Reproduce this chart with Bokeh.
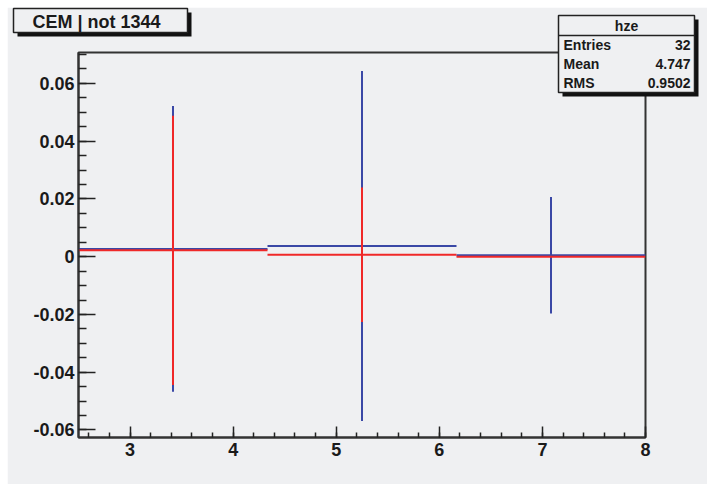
from bokeh.plotting import figure
from bokeh.models import FixedTicker, CustomJSTickFormatter, Range1d
from bokeh.core.properties import value
from bokeh.embed import file_html
from bokeh.resources import INLINE
import numpy as np

# ---- data ----
bin_edges = [2.5, 4.3333, 6.1667, 8.0]
blue_values = [0.0027, 0.0037, 0.0005]
blue_errors = [0.0495, 0.0606, 0.0202]
red_values = [0.0022, 0.0007, 0.0000]
red_errors = [0.0466, 0.0233, 0.0000]

x_ticks = [3, 4, 5, 6, 7, 8]
x_tick_labels = ["3", "4", "5", "6", "7", "8"]
y_ticks = [-0.06, -0.04, -0.02, 0.0, 0.02, 0.04, 0.06]
y_tick_labels = ["-0.06", "-0.04", "-0.02", "0", "0.02", "0.04", "0.06"]

title_text = "CEM | not 1344"
stats_name = "hze"
stats_rows = ["Entries", "Mean", "RMS"]
stats_vals = ["32", "4.747", "0.9502"]

BG = "#eff0f2"
FONT = "Liberation Sans"

# frame placement on the page (pixels)
FL, FR, FT, FB = 78, 645, 52, 437

W, H = 700, 477
p = figure(width=W, height=H, x_range=(2.5, 8.0), y_range=(-0.0626, 0.0707),
           output_backend="svg", toolbar_location=None,
           min_border_left=FL - 7, min_border_right=707 - FR, min_border_top=FT - 7,
           min_border_bottom=484 - FB, margin=(7, 0, 0, 7))
# pixel coordinate system for the decorative boxes
p.extra_x_ranges = {"px": Range1d(FL, FR)}
p.extra_y_ranges = {"px": Range1d(FB, FT)}

p.background_fill_color = BG
p.border_fill_color = BG
p.outline_line_color = "#333333"
p.outline_line_width = 2
p.xgrid.visible = False
p.ygrid.visible = False

# axes
xminor = list(np.round(np.arange(2.6, 8.0001, 0.2), 4))
yminor = list(np.round(np.arange(-0.06, 0.0701, 0.005), 4))
p.xaxis.ticker = FixedTicker(ticks=x_ticks, minor_ticks=xminor)
p.yaxis.ticker = FixedTicker(ticks=y_ticks, minor_ticks=yminor)
fmt_code = """
let best = 0, bd = 1e9;
for (let i = 0; i < tvals.length; i++) {
  const d = Math.abs(tvals[i] - tick);
  if (d < bd) { bd = d; best = i; }
}
return tlabels[best];
"""
p.xaxis.formatter = CustomJSTickFormatter(args=dict(tvals=x_ticks, tlabels=x_tick_labels), code=fmt_code)
p.yaxis.formatter = CustomJSTickFormatter(args=dict(tvals=y_ticks, tlabels=y_tick_labels), code=fmt_code)

for ax in (p.xaxis[0], p.yaxis[0]):
    ax.axis_line_color = "#333333"
    ax.axis_line_width = 2
    ax.major_tick_line_color = "#222222"
    ax.minor_tick_line_color = "#222222"
    ax.major_tick_line_width = 1.5
    ax.minor_tick_line_width = 1.5
    ax.major_tick_out = 0
    ax.minor_tick_out = 0
    ax.major_label_text_font = FONT
    ax.major_label_text_font_style = "bold"
    ax.major_label_text_font_size = "18px"
    ax.major_label_text_color = "#1a1a1a"

p.yaxis.major_tick_in = 17
p.yaxis.minor_tick_in = 8
p.yaxis.major_label_standoff = 4
p.xaxis.major_tick_in = 11
p.xaxis.minor_tick_in = 5
p.xaxis.major_label_standoff = 5

# ---- histograms ----
left = bin_edges[:-1]
right = bin_edges[1:]
centers = [(a + b) / 2 for a, b in zip(left, right)]

BLUE = "#3a48a6"
RED = "#f02828"
for vals, errs, col in ((blue_values, blue_errors, BLUE), (red_values, red_errors, RED)):
    p.segment(x0=left, x1=right, y0=vals, y1=vals, line_color=col, line_width=2)
    lo = [v - e for v, e in zip(vals, errs)]
    hi = [v + e for v, e in zip(vals, errs)]
    p.segment(x0=centers, x1=centers, y0=lo, y1=hi, line_color=col, line_width=2)

# ---- title box & stats box (page pixel coordinates, overlay level) ----
PX = dict(x_range_name="px", y_range_name="px", level="overlay")

def box(l, t, r, b, fill, line=None):
    p.quad(left=[l], right=[r], top=[t], bottom=[b],
           fill_color=fill if fill else "white", fill_alpha=1.0 if fill else 0.0,
           line_color=line if line else None, line_width=1.5, **PX)

def label(x, y, text, size, align):
    p.text(x=[x], y=[y], text=[text], text_font=value(FONT), text_font_style="bold",
           text_font_size=size, text_color="#1a1a1a", text_align=align,
           text_baseline="middle", **PX)

# title
box(17, 12, 191, 36, "#111111")
box(13, 8, 187, 32, BG, "#222222")
label(32, 21, title_text, "18px", "left")

# stats box
box(562, 19, 698, 96, "#111111")
box(558, 15, 694, 92, BG, "#222222")
p.segment(x0=[558], x1=[694], y0=[35], y1=[35], line_color="#222222", line_width=1.5, **PX)
label(626, 25, stats_name, "14px", "center")
rows_y = [44 + i * 19 for i in range(len(stats_rows))]
for yy, nm, vv in zip(rows_y, stats_rows, stats_vals):
    label(563, yy, nm, "14px", "left")
    label(690, yy, vv, "14px", "right")

open("out.html", "w").write(file_html(p, INLINE))
